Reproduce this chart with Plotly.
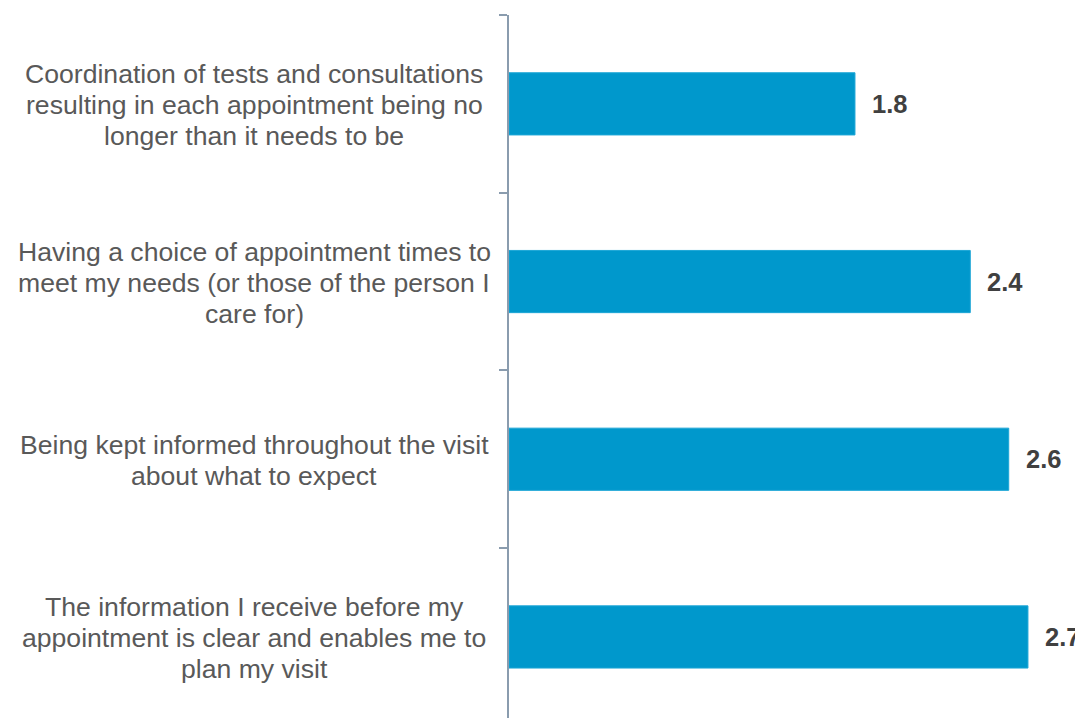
import plotly.graph_objects as go

categories = [
    "Coordination of tests and consultations<br>resulting in each appointment being no<br>longer than it needs to be",
    "Having a choice of appointment times to<br>meet my needs (or those of the person I<br>care for)",
    "Being kept informed throughout the visit<br>about what to expect",
    "The information I receive before my<br>appointment is clear and enables me to<br>plan my visit",
]
values = [1.8, 2.4, 2.6, 2.7]
value_labels = ["1.8", "2.4", "2.6", "2.7"]

# page body has an 8px default margin; compensate so the chart lands where the reference has it
OFF = 8
W, H = 1083 - OFF, 718 - OFF
ML, MT = 509 - OFF, 15 - OFF
plot_w = W - ML
plot_h = H - MT
px_per_unit = 192.2
px_per_cat = 177.7

fig = go.Figure()
fig.add_trace(go.Bar(
    x=values,
    y=list(range(len(categories))),
    orientation="h",
    width=0.35,
    marker=dict(color="#0098CC", line=dict(color="#1CA6D6", width=1)),
    hoverinfo="skip",
))

annotations = []
label_center_px = 254 - OFF
for i, cat in enumerate(categories):
    lines = cat.split("<br>")
    n = len(lines)
    for k, line in enumerate(lines):
        annotations.append(dict(
            x=(label_center_px - ML) / plot_w, xref="paper",
            y=i, yref="y",
            text=line, showarrow=False,
            xanchor="center", yanchor="middle",
            yshift=-(k - (n - 1) / 2) * 31 - 1,
            font=dict(family="Liberation Sans, Arial, sans-serif", size=26.6, color="#595959"),
        ))
    annotations.append(dict(
        x=values[i], xref="x", y=i, yref="y",
        text="<b>%s</b>" % value_labels[i], showarrow=False,
        xanchor="left", yanchor="middle", xshift=15,
        font=dict(family="Liberation Sans, Arial, sans-serif", size=25.5, color="#404040"),
    ))

fig.update_layout(
    width=W, height=H,
    margin=dict(l=ML, r=0, t=MT, b=0),
    plot_bgcolor="white", paper_bgcolor="white",
    showlegend=False,
    annotations=annotations,
    xaxis=dict(range=[0, plot_w / px_per_unit], visible=False, fixedrange=True),
    yaxis=dict(
        range=[-0.5 + plot_h / px_per_cat, -0.5],
        tickmode="array",
        tickvals=[i - 0.5 for i in range(len(categories) + 1)],
        ticktext=[""] * (len(categories) + 1),
        ticks="outside", ticklen=8, tickwidth=2, tickcolor="#8A9CAE",
        showline=True, linecolor="#8A9CAE", linewidth=2,
        showgrid=False, zeroline=False, fixedrange=True,
    ),
)

fig.write_html("out.html")
